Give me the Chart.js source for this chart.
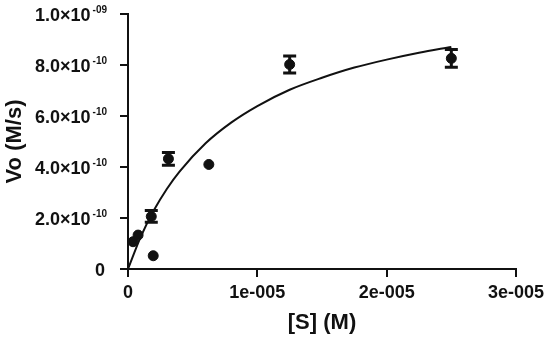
<!DOCTYPE html>
<html><head><meta charset="utf-8">
<script src="https://cdn.jsdelivr.net/npm/chart.js@4"></script>
<style>html,body{margin:0;padding:0;background:#fff;}#wrap{width:550px;height:339px;}</style>
</head><body><div id="wrap"><canvas id="c" width="550" height="339"></canvas></div>
<script>
// Measured substrate concentrations [S] (M)
const substrateM = [3.9e-7, 7.8e-7, 1.8e-6, 1.95e-6, 3.125e-6, 6.25e-6, 1.25e-5, 2.5e-5];
// Measured initial velocities Vo (M/s)
const velocity = [1.07e-10, 1.33e-10, 2.06e-10, 0.52e-10, 4.32e-10, 4.1e-10, 8.02e-10, 8.26e-10];
// Error bar half-heights (M/s), 0 = none visible
const velocityErr = [0, 0, 0.23e-10, 0, 0.25e-10, 0, 0.33e-10, 0.35e-10];
// Fitted curve
const fitS = [0, 1e-6, 2e-6, 3e-6, 4e-6, 6e-6, 8e-6, 1e-5, 1.25e-5, 1.5e-5, 1.75e-5, 2e-5, 2.25e-5, 2.5e-5];
const fitV = [0, 1.28e-10, 2.3e-10, 3.14e-10, 3.83e-10, 4.93e-10, 5.75e-10, 6.39e-10, 7.03e-10, 7.5e-10, 7.9e-10, 8.21e-10, 8.48e-10, 8.71e-10];
// Tick labels
const xTickLabels = ['0', '1e-005', '2e-005', '3e-005'];
const yTickValues = [0, 2e-10, 4e-10, 6e-10, 8e-10, 1e-9];
const yTickMantissa = ['0', '2.0\u00d710', '4.0\u00d710', '6.0\u00d710', '8.0\u00d710', '1.0\u00d710'];
const yTickExponent = ['', '-10', '-10', '-10', '-10', '-09'];

const FONT = '"Liberation Sans", Arial, sans-serif';

const errorBarPlugin = {
  id: 'errbars',
  afterDatasetsDraw(chart) {
    const ctx = chart.ctx, xs = chart.scales.x, ys = chart.scales.y;
    ctx.save();
    ctx.strokeStyle = '#111';
    for (let i = 0; i < substrateM.length; i++) {
      const e = velocityErr[i];
      if (!e) continue;
      const px = xs.getPixelForValue(substrateM[i]);
      const top = ys.getPixelForValue(velocity[i] + e);
      const bot = ys.getPixelForValue(velocity[i] - e);
      ctx.lineWidth = 3;
      ctx.beginPath(); ctx.moveTo(px, top); ctx.lineTo(px, bot); ctx.stroke();
      ctx.beginPath();
      ctx.moveTo(px - 6.5, top); ctx.lineTo(px + 6.5, top);
      ctx.moveTo(px - 6.5, bot); ctx.lineTo(px + 6.5, bot);
      ctx.stroke();
    }
    ctx.restore();
  }
};

const yLabelPlugin = {
  id: 'ylabels',
  afterDraw(chart) {
    const ctx = chart.ctx, ys = chart.scales.y;
    const rightEdge = 107;
    ctx.save();
    ctx.fillStyle = '#111';
    ctx.textBaseline = 'alphabetic';
    for (let i = 0; i < yTickValues.length; i++) {
      const py = ys.getPixelForValue(yTickValues[i]);
      ctx.font = 'bold 10px ' + FONT;
      const expW = yTickExponent[i] ? ctx.measureText(yTickExponent[i]).width + 1 : 0;
      if (yTickExponent[i]) {
        ctx.textAlign = 'left';
        ctx.fillText(yTickExponent[i], rightEdge - expW + 1, py - 1);
      }
      ctx.font = 'bold 18px ' + FONT;
      ctx.textAlign = 'right';
      ctx.fillText(yTickMantissa[i], yTickExponent[i] ? rightEdge - expW - 1 : 105, py + 6.5);
    }
    ctx.restore();
  }
};

new Chart(document.getElementById('c'), {
  data: {
    datasets: [
      {
        type: 'scatter',
        data: substrateM.map((s, i) => ({x: s, y: velocity[i]})),
        backgroundColor: '#111', borderColor: '#111',
        pointRadius: 5, pointHoverRadius: 5, showLine: false, order: 0
      },
      {
        type: 'line',
        data: fitS.map((s, i) => ({x: s, y: fitV[i]})),
        borderColor: '#111', borderWidth: 2, pointRadius: 0, fill: false,
        cubicInterpolationMode: 'monotone', order: 1
      }
    ]
  },
  options: {
    responsive: false, animation: false,
    layout: {padding: {top: 14, right: 34, left: 0, bottom: 0}},
    plugins: {legend: {display: false}, tooltip: {enabled: false}},
    scales: {
      x: {
        type: 'linear', min: 0, max: 3e-5,
        ticks: {stepSize: 1e-5, color: '#111', padding: 5,
          font: {family: FONT, size: 18, weight: 'bold'},
          callback: (v, i) => xTickLabels[i], maxRotation: 0},
        grid: {display: true, drawOnChartArea: false, drawTicks: true, tickLength: 8, color: '#111', lineWidth: 2},
        border: {display: true, color: '#111', width: 2},
        title: {display: true, text: '[S] (M)', color: '#111', padding: {top: 4, bottom: 3},
          font: {family: FONT, size: 22, weight: 'bold'}},
        afterFit: (s) => { s.height = 70; }
      },
      y: {
        type: 'linear', min: 0, max: 1e-9,
        ticks: {stepSize: 2e-10, display: false},
        grid: {display: true, drawOnChartArea: false, drawTicks: true, tickLength: 8, color: '#111', lineWidth: 2},
        border: {display: true, color: '#111', width: 2},
        title: {display: true, text: 'Vo (M/s)', color: '#111', padding: {top: 2, bottom: 4},
          font: {family: FONT, size: 22, weight: 'bold'}},
        afterFit: (s) => { s.width = 128; }
      }
    }
  },
  plugins: [errorBarPlugin, yLabelPlugin]
});
</script>
</body></html>
